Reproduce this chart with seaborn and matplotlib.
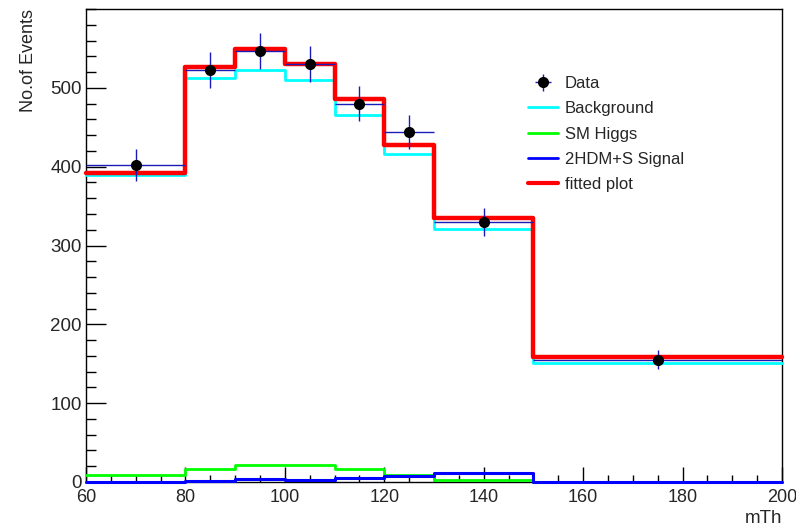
import numpy as np
import pandas as pd
import matplotlib
matplotlib.use("Agg")
import matplotlib.pyplot as plt
from matplotlib.lines import Line2D
from matplotlib.ticker import MultipleLocator
import seaborn as sns

# ---- data ----
edges = [60, 80, 90, 100, 110, 120, 130, 150, 200]
data = [402, 523, 547, 530, 480, 444, 330, 155]
data_err = [20, 23, 23, 23, 22, 21, 18, 12]
background = [390, 512, 523, 510, 465, 416, 321, 151]
sm_higgs = [9, 17, 22, 22, 17, 9, 3, 0]
signal = [0, 1.5, 3.5, 2, 5, 7, 12, 0]
fitted = [392, 527, 549, 530, 486, 428, 335, 158]
yticks = [0, 100, 200, 300, 400, 500]

sns.set_style("white")
plt.rcParams["font.family"] = ["Liberation Sans", "DejaVu Sans"]

edges_a = np.array(edges, dtype=float)
centers = (edges_a[:-1] + edges_a[1:]) / 2
halfw = (edges_a[1:] - edges_a[:-1]) / 2
df = pd.DataFrame({"mTh": centers, "Background": background, "SM Higgs": sm_higgs,
                   "2HDM+S Signal": signal, "fitted plot": fitted,
                   "Data": data, "err": data_err, "xerr": halfw})

fig = plt.figure(figsize=(7.96, 5.28), dpi=100)
ax = fig.add_axes([86/796, 1-482/528, 696/796, 473/528])

series = [("Background", "#00ffff", 2.0, 3),
          ("SM Higgs", "#00ff00", 2.0, 3),
          ("2HDM+S Signal", "#0000ff", 2.2, 3.1),
          ("fitted plot", "#ff0000", 3.2, 3.2)]
for name, col, lw, z in series:
    sns.histplot(data=df, x="mTh", weights=name, bins=edges, element="step",
                 fill=False, color=col, linewidth=lw, ax=ax, zorder=z,
                 clip_on=False)

eb = ax.errorbar(df["mTh"], df["Data"], yerr=df["err"], xerr=df["xerr"],
                 fmt="o", color="black", ecolor="#1a1ab8", elinewidth=1.0,
                 markersize=7, capsize=0, zorder=5)

ax.set_xlim(60, 200)
ax.set_ylim(0, 600)
ax.xaxis.set_major_locator(MultipleLocator(20))
ax.xaxis.set_minor_locator(MultipleLocator(5))
ax.set_yticks(yticks)
ax.yaxis.set_minor_locator(MultipleLocator(20))
ax.tick_params(axis="x", which="both", bottom=True, top=False)
ax.tick_params(axis="y", which="both", left=True, right=False)
ax.tick_params(axis="x", which="major", direction="in", length=11, width=1,
               labelsize=13, pad=5, color="black")
ax.tick_params(axis="x", which="minor", direction="in", length=5, width=1, color="black")
ax.tick_params(axis="y", which="major", direction="in", length=14.4, width=1,
               labelsize=13.5, pad=3, color="black")
ax.tick_params(axis="y", which="minor", direction="in", length=7.2, width=1, color="black")
for s in ax.spines.values():
    s.set_color("black")
    s.set_linewidth(1)

ax.set_ylabel("No.of Events", fontsize=13, loc="top")
ax.yaxis.set_label_coords(-0.07, 1.0)
ax.set_xlabel("mTh", fontsize=13.5, loc="right")
ax.xaxis.set_label_coords(1.0, -0.06)

handles = [eb,
           Line2D([], [], color="#00ffff", lw=2),
           Line2D([], [], color="#00ff00", lw=2),
           Line2D([], [], color="#0000ff", lw=2),
           Line2D([], [], color="#ff0000", lw=3)]
labels = ["Data", "Background", "SM Higgs", "2HDM+S Signal", "fitted plot"]
fig.legend(handles, labels, loc="upper left", bbox_to_anchor=(528/796, 1-76/528),
           frameon=False, fontsize=12, handlelength=1.8, handletextpad=0.4,
           labelspacing=0.62, borderpad=0, borderaxespad=0)

fig.savefig("out.png", dpi=100)
